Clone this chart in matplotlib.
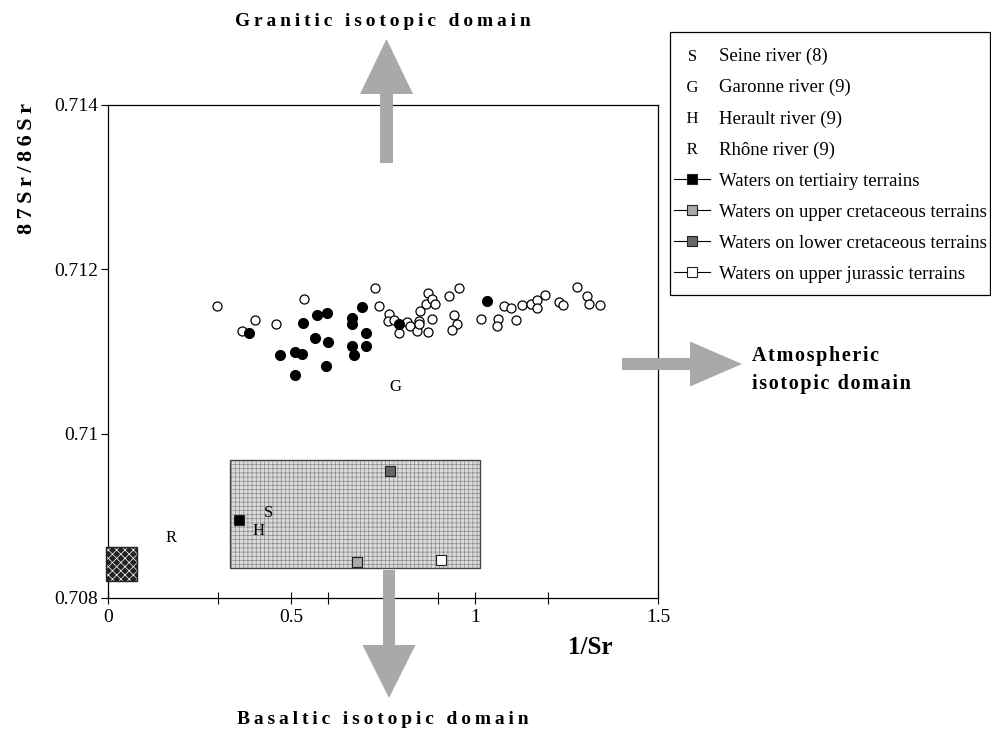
import matplotlib
matplotlib.use("Agg")
import matplotlib.pyplot as plt
from matplotlib.patches import Rectangle, FancyArrow
from matplotlib.lines import Line2D

plt.rcParams['font.family'] = ['Liberation Serif', 'DejaVu Serif']
plt.rcParams['mathtext.fontset'] = 'custom'
plt.rcParams['mathtext.rm'] = 'Liberation Serif'
plt.rcParams['hatch.linewidth'] = 0.5

# === DATA ===
# waters on tertiary terrains (filled circles)
tert_x = [0.385, 0.469, 0.509, 0.530, 0.510, 0.533, 0.565, 0.569, 0.597, 0.601,
          0.594, 0.665, 0.665, 0.665, 0.672, 0.692, 0.703, 0.704, 0.794, 1.033]
tert_y = [0.71123, 0.71096, 0.71099, 0.71097, 0.71072, 0.71135, 0.71116, 0.71144,
          0.71147, 0.71112, 0.71082, 0.71141, 0.71133, 0.71107, 0.71096, 0.71154,
          0.71123, 0.71107, 0.71133, 0.71162]

# waters on upper jurassic terrains (open circles)
jur_x = [0.298, 0.365, 0.402, 0.458, 0.535, 0.729, 0.740, 0.765, 0.764, 0.781,
         0.794, 0.816, 0.824, 0.843, 0.848, 0.847, 0.850, 0.866, 0.872, 0.884,
         0.893, 0.873, 0.884, 0.931, 0.944, 0.951, 0.937, 0.956, 1.016, 1.065,
         1.062, 1.081, 1.100, 1.113, 1.128, 1.153, 1.170, 1.169, 1.193, 1.231,
         1.242, 1.280, 1.307, 1.313, 1.342]
jur_y = [0.71155, 0.71125, 0.71138, 0.71133, 0.71164, 0.71177, 0.71155, 0.71146,
         0.71137, 0.71138, 0.71123, 0.71136, 0.71131, 0.71125, 0.71137, 0.71133,
         0.71149, 0.71158, 0.71171, 0.71164, 0.71158, 0.71124, 0.71139, 0.71168,
         0.71144, 0.71133, 0.71126, 0.71177, 0.71139, 0.71139, 0.71131, 0.71155,
         0.71153, 0.71138, 0.71157, 0.71158, 0.71163, 0.71153, 0.71169, 0.71160,
         0.71156, 0.71178, 0.71168, 0.71158, 0.71157]

# river labels
river_letters = ["G", "R", "S", "H"]
river_x = [0.785, 0.172, 0.437, 0.410]
river_y = [0.71057, 0.70873, 0.70903, 0.70882]

# mean values of terrains (squares)
sq_names = ["Waters on tertiairy terrains", "Waters on upper cretaceous terrains",
            "Waters on lower cretaceous terrains", "Waters on upper jurassic terrains"]
sq_x = [0.358, 0.680, 0.769, 0.907]
sq_y = [0.70895, 0.70844, 0.70955, 0.70846]
sq_colors = ["black", "#a8a8a8", "#666666", "white"]

legend_rivers = ["Seine river (8)", "Garonne river (9)", "Herault river (9)", "Rhône river (9)"]
legend_letters = ["S", "G", "H", "R"]

# boxes: (x0, x1, y0, y1)
range_box = (0.333, 1.014, 0.70837, 0.70968)
sea_box = (-0.005, 0.078, 0.70821, 0.70862)

xmajor = [0, 0.5, 1, 1.5]
xmajor_labels = ["0", "0.5", "1", "1.5"]
xminor = [0.3, 0.6, 0.9, 1.2]
yticks = [0.708, 0.71, 0.712, 0.714]
ytick_labels = ["0.708", "0.71", "0.712", "0.714"]


def spaced(s, sep="\u2009"):
    return sep.join(s)


W, H = 991, 732
fig = plt.figure(figsize=(W / 100, H / 100), dpi=100)
ax = fig.add_axes([108 / W, 1 - 598 / H, 550 / W, 493 / H])

# === BOXES ===
x0, x1, y0, y1 = range_box
ax.add_patch(Rectangle((x0, y0), x1 - x0, y1 - y0, facecolor="#dcdcdc",
                       edgecolor="#8a8a8a", hatch="++++", linewidth=0, zorder=1))
ax.add_patch(Rectangle((x0, y0), x1 - x0, y1 - y0, facecolor="none",
                       edgecolor="#444444", linewidth=1.0, zorder=2))

x0, x1, y0, y1 = sea_box
ax.add_patch(Rectangle((x0, y0), x1 - x0, y1 - y0, facecolor="#222222",
                       edgecolor="white", hatch="xxxx", linewidth=0, zorder=3,
                       clip_on=False))
ax.add_patch(Rectangle((x0, y0), x1 - x0, y1 - y0, facecolor="none",
                       edgecolor="#222222", linewidth=1.0, zorder=3, clip_on=False))

# === POINTS ===
ax.plot(jur_x, jur_y, linestyle="none", marker="o", markersize=6.5,
        markerfacecolor="white", markeredgecolor="black", markeredgewidth=0.9, zorder=4)
ax.plot(tert_x, tert_y, linestyle="none", marker="o", markersize=7,
        markerfacecolor="black", markeredgecolor="black", zorder=5)

for x, y, c in zip(sq_x, sq_y, sq_colors):
    ax.plot([x], [y], linestyle="none", marker="s", markersize=7,
            markerfacecolor=c, markeredgecolor="#222222", markeredgewidth=0.8, zorder=6)

for t, x, y in zip(river_letters, river_x, river_y):
    ax.text(x, y, t, fontsize=12, ha="center", va="center", zorder=6)

# === AXES ===
ax.set_xlim(0, 1.5)
ax.set_ylim(0.708, 0.714)
ax.set_xticks(xmajor)
ax.set_xticklabels(xmajor_labels)
ax.set_xticks(xminor, minor=True)
ax.set_yticks(yticks)
ax.set_yticklabels(ytick_labels)
ax.tick_params(axis="x", which="both", direction="inout", length=8, width=0.8,
               labelsize=14, pad=4)
ax.tick_params(axis="y", direction="out", length=5, width=0.8, labelsize=14, pad=2)
for sp in ax.spines.values():
    sp.set_linewidth(0.9)

fig.text(27 / W, 1 - 168 / H, spaced("87Sr/86Sr"), rotation=90, fontsize=16,
         fontweight="bold", ha="center", va="center")
fig.text(590 / W, 1 - 647 / H, "1/Sr", fontsize=18, fontweight="bold",
         ha="center", va="center")

# === ARROWS (inches, from bottom) ===
arrow_kw = dict(facecolor="#a9a9a9", edgecolor="none", length_includes_head=True,
                transform=fig.dpi_scale_trans)
fig.add_artist(FancyArrow(3.865, (H - 163) / 100, 0, (163 - 39) / 100, width=0.13,
                          head_width=0.53, head_length=0.55, **arrow_kw))
fig.add_artist(FancyArrow(6.22, (H - 364) / 100, (742 - 622) / 100, 0, width=0.12,
                          head_width=0.45, head_length=0.52, **arrow_kw))
fig.add_artist(FancyArrow(3.89, (H - 570) / 100, 0, -(698 - 570) / 100, width=0.12,
                          head_width=0.53, head_length=0.53, **arrow_kw))

fig.text(383 / W, 1 - 22 / H, spaced("Granitic isotopic domain"), fontsize=14,
         fontweight="bold", ha="center", va="center")
fig.text(383 / W, 1 - 720 / H, spaced("Basaltic isotopic domain"), fontsize=14,
         fontweight="bold", ha="center", va="center")
fig.text(752 / W, 1 - 356 / H, spaced("Atmospheric", "\u200a"), fontsize=14.5,
         fontweight="bold", ha="left", va="center")
fig.text(752 / W, 1 - 384 / H, spaced("isotopic domain", "\u200a"), fontsize=14.5,
         fontweight="bold", ha="left", va="center")

# === LEGEND ===
handles = []
for t in legend_letters:
    handles.append(Line2D([], [], linestyle="none", marker="$\\mathrm{%s}$" % t,
                          color="black", markersize=8, markeredgewidth=0))
for c in sq_colors:
    handles.append(Line2D([], [], color="black", linewidth=0.8, marker="s",
                          markersize=7, markerfacecolor=c, markeredgecolor="#222222",
                          markeredgewidth=0.8))
fig.add_artist(Rectangle((670 / W, 1 - 295 / H), 320 / W, 263 / H, facecolor="none",
                         edgecolor="black", linewidth=0.9, transform=fig.transFigure))
leg = fig.legend(handles, legend_rivers + sq_names, loc="upper left",
                 bbox_to_anchor=(674 / W, 1 - 48 / H), bbox_transform=fig.transFigure,
                 fontsize=13.5, frameon=False, labelspacing=0.74, handlelength=1.9,
                 handletextpad=0.5, borderpad=0, borderaxespad=0)

fig.savefig("out.png", dpi=100)
